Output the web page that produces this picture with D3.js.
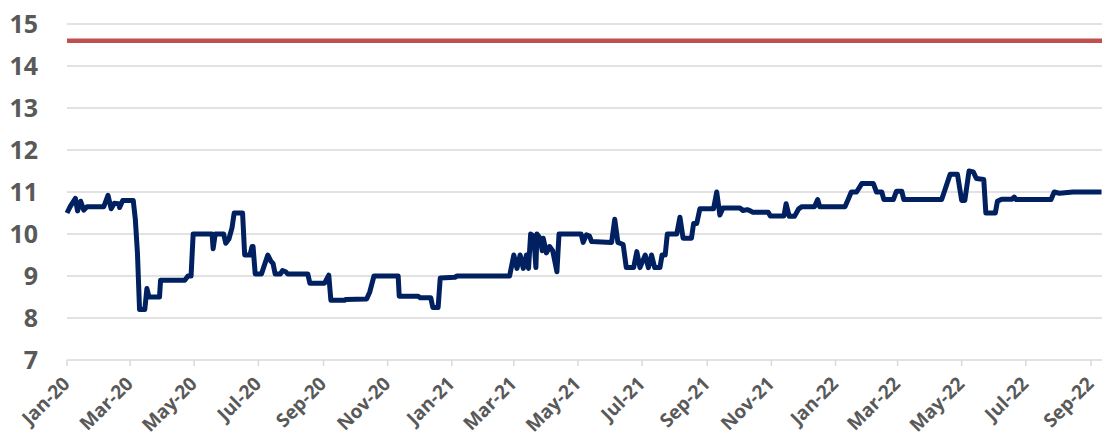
<!DOCTYPE html>
<html>
<head>
<meta charset="utf-8">
<script src="https://cdn.jsdelivr.net/npm/d3@7"></script>
<style>
  body { margin: 0; background: #fff; }
  svg { display: block; }
  .grid line { stroke: #d9d9d9; stroke-width: 1.5; }
  .label { font-family: "Open Sans", sans-serif; font-weight: 700; fill: #595959; }
</style>
</head>
<body>
<svg class="chart" width="1102" height="436"></svg>
<script>
// change points of the daily series
let dates = [
  "2020-01-01", "2020-01-04", "2020-01-09", "2020-01-11", "2020-01-14", "2020-01-17", "2020-01-20",
  "2020-02-05", "2020-02-09", "2020-02-12", "2020-02-15", "2020-02-19", "2020-02-20", "2020-02-23",
  "2020-03-04", "2020-03-06", "2020-03-08", "2020-03-10", "2020-03-15", "2020-03-17", "2020-03-19",
  "2020-03-29", "2020-03-30", "2020-04-22", "2020-04-25", "2020-04-28", "2020-04-30",
  "2020-05-18", "2020-05-19", "2020-05-21", "2020-05-29", "2020-05-31", "2020-06-03", "2020-06-06",
  "2020-06-08", "2020-06-16", "2020-06-18", "2020-06-23", "2020-06-25", "2020-06-26", "2020-06-28",
  "2020-07-01", "2020-07-04", "2020-07-10", "2020-07-13", "2020-07-15", "2020-07-17", "2020-07-22",
  "2020-07-24", "2020-07-27", "2020-07-29", "2020-08-17", "2020-08-19", "2020-09-02", "2020-09-06",
  "2020-09-08", "2020-09-21", "2020-09-22", "2020-10-12", "2020-10-15", "2020-10-19", "2020-11-11",
  "2020-11-12", "2020-11-30", "2020-12-02", "2020-12-12", "2020-12-14", "2020-12-19", "2020-12-21",
  "2021-01-04", "2021-01-06", "2021-02-25", "2021-03-01", "2021-03-04", "2021-03-07", "2021-03-10",
  "2021-03-13", "2021-03-15", "2021-03-17", "2021-03-20", "2021-03-22", "2021-03-23", "2021-03-26",
  "2021-03-28", "2021-03-29", "2021-04-01", "2021-04-04", "2021-04-07", "2021-04-11", "2021-04-13",
  "2021-05-04", "2021-05-06", "2021-05-09", "2021-05-12", "2021-05-14", "2021-06-02", "2021-06-05",
  "2021-06-08", "2021-06-13", "2021-06-16", "2021-06-23", "2021-06-26", "2021-06-29", "2021-07-04",
  "2021-07-07", "2021-07-10", "2021-07-13", "2021-07-18", "2021-07-20", "2021-07-23", "2021-07-25",
  "2021-08-03", "2021-08-06", "2021-08-09", "2021-08-17", "2021-08-19", "2021-08-22", "2021-08-25",
  "2021-09-07", "2021-09-10", "2021-09-13", "2021-09-16", "2021-10-02", "2021-10-05", "2021-10-09",
  "2021-10-12", "2021-10-14", "2021-10-29", "2021-10-31", "2021-11-13", "2021-11-15", "2021-11-18",
  "2021-11-23", "2021-11-27", "2021-11-30", "2021-12-12", "2021-12-15", "2021-12-17",
  "2022-01-10", "2022-01-13", "2022-01-16", "2022-01-21", "2022-01-26", "2022-02-06", "2022-02-09",
  "2022-02-14", "2022-02-16", "2022-02-25", "2022-02-28", "2022-03-05", "2022-03-07", "2022-04-12",
  "2022-04-20", "2022-04-27", "2022-05-01", "2022-05-04", "2022-05-08", "2022-05-12", "2022-05-15",
  "2022-05-22", "2022-05-24", "2022-06-02", "2022-06-04", "2022-06-08", "2022-06-18", "2022-06-20",
  "2022-06-22", "2022-07-25", "2022-07-28", "2022-08-02", "2022-08-15", "2022-09-11"
]

let values = [
  10.50, 10.65, 10.85, 10.55, 10.78, 10.57, 10.65,
  10.65, 10.92, 10.60, 10.73, 10.72, 10.63, 10.80,
  10.80, 10.35, 9.55, 8.20, 8.20, 8.70, 8.50,
  8.50, 8.90, 8.90, 9.00, 9.00, 10.00,
  10.00, 9.65, 10.00, 10.00, 9.78, 9.88, 10.15,
  10.50, 10.50, 9.50, 9.50, 9.70, 9.70, 9.05,
  9.05, 9.05, 9.50, 9.35, 9.30, 9.05, 9.05,
  9.13, 9.10, 9.05, 9.05, 8.83, 8.83, 9.02,
  8.42, 8.42, 8.44, 8.45, 8.62, 9.00, 9.00,
  8.52, 8.52, 8.48, 8.48, 8.25, 8.25, 8.95,
  8.97, 9.00, 9.00, 9.50, 9.18, 9.50, 9.18,
  9.50, 9.18, 10.00, 9.95, 9.20, 10.00, 9.90,
  9.60, 9.90, 9.55, 9.70, 9.60, 9.10, 10.00,
  10.00, 9.80, 9.98, 9.95, 9.82, 9.80, 10.35,
  9.80, 9.75, 9.20, 9.20, 9.58, 9.20, 9.50,
  9.20, 9.50, 9.20, 9.20, 9.50, 9.50, 10.00,
  10.00, 10.40, 9.90, 9.90, 10.25, 10.25, 10.60,
  10.60, 11.00, 10.45, 10.62, 10.62, 10.56, 10.58,
  10.55, 10.52, 10.52, 10.43, 10.43, 10.72, 10.42,
  10.42, 10.60, 10.65, 10.65, 10.82, 10.65,
  10.65, 10.82, 11.00, 11.00, 11.20, 11.20, 11.00,
  11.00, 10.82, 10.82, 11.02, 11.02, 10.82, 10.82,
  11.42, 11.42, 10.80, 10.80, 11.50, 11.48, 11.32,
  11.30, 10.50, 10.50, 10.78, 10.83, 10.83, 10.88,
  10.82, 10.82, 11.00, 10.97, 11.00, 11.00
]

let limitValue = 14.6
let yTicks = [7, 8, 9, 10, 11, 12, 13, 14, 15]

const parse = d3.utcParse("%Y-%m-%d")
const series = dates.map((d, i) => ({ date: parse(d), value: values[i] }))

const svg = d3.select("svg.chart")

const x = d3.scaleUtc()
  .domain(d3.extent(series, d => d.date))
  .range([67, 1101.5])

const y = d3.scaleLinear()
  .domain([7, 15])
  .range([360, 24])

// gridlines
svg.append("g")
  .attr("class", "grid")
  .selectAll("line")
  .data(yTicks)
  .enter()
  .append("line")
  .attr("x1", 67)
  .attr("x2", 1102)
  .attr("y1", d => y(d))
  .attr("y2", d => y(d))

// y labels
svg.append("g")
  .selectAll("text")
  .data(yTicks)
  .enter()
  .append("text")
  .attr("class", "label")
  .attr("x", 38)
  .attr("y", d => y(d))
  .attr("dy", "0.36em")
  .attr("text-anchor", "end")
  .style("font-size", "25px")
  .text(d => d)

// x axis
const xTicks = d3.utcMonth.every(2).range(parse("2020-01-01"), parse("2022-09-02"))
const fmt = d3.utcFormat("%b-%y")

svg.append("g")
  .attr("class", "grid")
  .selectAll("line")
  .data(xTicks)
  .enter()
  .append("line")
  .attr("x1", d => x(d))
  .attr("x2", d => x(d))
  .attr("y1", 360)
  .attr("y2", 366)

svg.append("g")
  .selectAll("text")
  .data(xTicks)
  .enter()
  .append("text")
  .attr("class", "label")
  .attr("text-anchor", "end")
  .attr("transform", d => `translate(${x(d) + 4},${385}) rotate(-45)`)
  .style("font-size", "19px")
  .text(d => fmt(d))

// limit line
svg.append("line")
  .attr("x1", x.range()[0])
  .attr("x2", 1102)
  .attr("y1", y(limitValue))
  .attr("y2", y(limitValue))
  .attr("stroke", "#c0504d")
  .attr("stroke-width", 4.5)

const line = d3.line()
  .x(d => x(d.date))
  .y(d => y(d.value))

svg.append("path")
  .datum(series)
  .attr("d", line)
  .attr("fill", "none")
  .attr("stroke", "#002060")
  .attr("stroke-width", 5)
  .attr("stroke-linejoin", "round")
</script>
</body>
</html>
